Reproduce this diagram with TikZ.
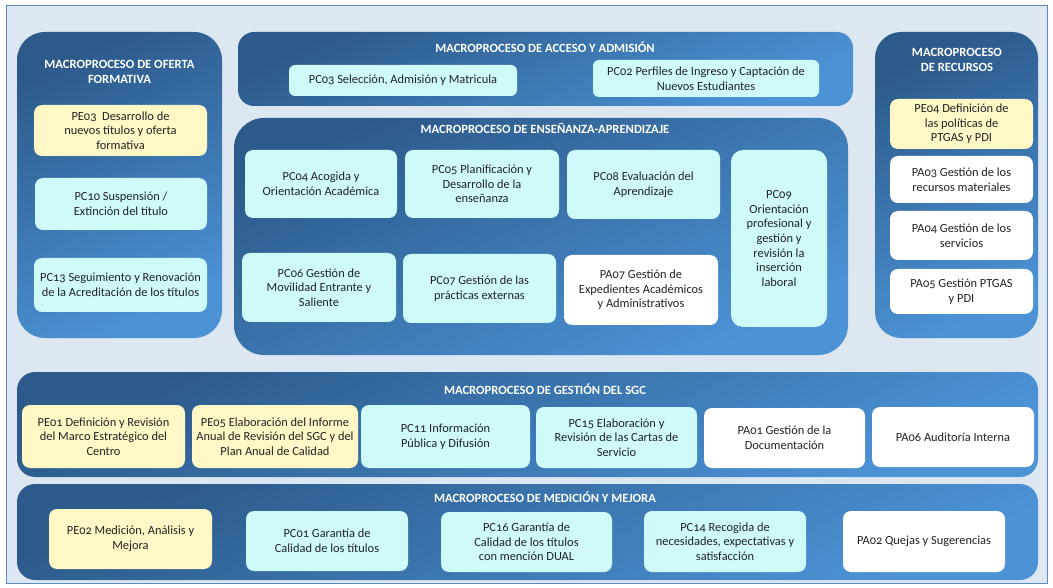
\documentclass[tikz,border=0pt]{standalone}
\usepackage{fontspec}
\setmainfont{Carlito}[Numbers=OldStyle]
\definecolor{bgc}{HTML}{DDE7F2}
\definecolor{framec}{HTML}{5B8BC2}
\definecolor{pdark}{HTML}{2C5A8A}
\definecolor{plight}{HTML}{4C93D6}
\definecolor{cyanb}{HTML}{CFFAFA}
\definecolor{yellb}{HTML}{FFF7C6}
\definecolor{txt}{HTML}{222222}
\tikzset{
  panel/.style={draw=none, rounded corners=#1, top color=pdark, bottom color=plight, shading angle=25, inner sep=0pt},
  ptitle/.style={text=white, font=\fontsize{12.6}{15}\selectfont\bfseries, align=center, inner sep=0pt},
  box/.style={rounded corners=8pt, draw=none, align=center, inner sep=1pt, text=txt, font=\fontsize{12.4}{14.6}\selectfont},
  pcbox/.style={box, fill=cyanb},
  pebox/.style={box, fill=yellb},
  pabox/.style={box, fill=white},
}
\begin{document}
\begin{tikzpicture}[x=1pt,y=-1pt]
\useasboundingbox (0,0) rectangle (1053,588);
\fill[white] (0,0) rectangle (1053,588);
\node[draw=framec, fill=bgc, line width=0.8pt, minimum width=1041pt, minimum height=578pt, inner sep=0pt] (frame) at (526.5,294) {};

% Oferta formativa
\node[panel=28pt, minimum width=205pt, minimum height=306pt] (pof) at (119.5,185) {};
\node[ptitle] (tof) at (119.5,71.5) {MACROPROCESO DE OFERTA\\FORMATIVA};
\node[pebox, minimum width=173pt, minimum height=51pt] (pe03) at (120.5,130.5) {PE03\ \ Desarrollo de\\nuevos títulos y oferta\\formativa};
\node[pcbox, minimum width=172pt, minimum height=52pt] (pc10) at (121,204) {PC10 Suspensión /\\Extinción del título};
\node[pcbox, minimum width=173pt, minimum height=54pt] (pc13) at (120.5,285) {PC13 Seguimiento y Renovación\\de la Acreditación de los títulos};

% Acceso y admision
\node[panel=16pt, minimum width=615pt, minimum height=74pt] (pac) at (545.5,69) {};
\node[ptitle] (tac) at (545,47) {MACROPROCESO DE ACCESO Y ADMISIÓN};
\node[pcbox, rounded corners=6pt, minimum width=228pt, minimum height=31pt] (pc03) at (403,80.5) {PC03 Selección, Admisión y Matricula};
\node[pcbox, rounded corners=6pt, minimum width=226pt, minimum height=37pt] (pc02) at (706,78.5) {PC02 Perfiles de Ingreso y Captación de\\Nuevos Estudiantes};

% Ensenanza-aprendizaje
\node[panel=30pt, minimum width=614pt, minimum height=237pt] (pen) at (541,236.5) {};
\node[ptitle] (ten) at (545,128) {MACROPROCESO DE ENSEÑANZA-APRENDIZAJE};
\node[pcbox, minimum width=152pt, minimum height=68pt] (pc04) at (321,184) {PC04 Acogida y\\Orientación Académica};
\node[pcbox, minimum width=154pt, minimum height=68pt] (pc05) at (482,184) {PC05 Planificación y\\Desarrollo de la\\enseñanza};
\node[pcbox, minimum width=153pt, minimum height=69pt] (pc08) at (643.5,184.5) {PC08 Evaluación del\\Aprendizaje};
\node[pcbox, rounded corners=12pt, minimum width=96pt, minimum height=177pt] (pc09) at (779,238.5) {PC09\\Orientación\\profesional y\\gestión y\\revisión la\\inserción\\laboral};
\node[pcbox, minimum width=154pt, minimum height=69pt] (pc06) at (319,287.5) {PC06 Gestión de\\Movilidad Entrante y\\Saliente};
\node[pcbox, minimum width=153pt, minimum height=69pt] (pc07) at (479.5,288.5) {PC07 Gestión de las\\prácticas externas};
\node[pabox, minimum width=154pt, minimum height=70pt] (pa07) at (641,290) {PA07 Gestión de\\Expedientes Académicos\\y Administrativos};

% Recursos
\node[panel=26pt, minimum width=163pt, minimum height=306pt] (pre) at (956.5,185) {};
\node[ptitle] (tre) at (957,60) {MACROPROCESO\\DE RECURSOS};
\node[pebox, minimum width=143pt, minimum height=50pt] (pe04) at (961.5,124) {PE04 Definición de\\las políticas de\\PTGAS y PDI};
\node[pabox, minimum width=143pt, minimum height=47pt] (pa03) at (961.5,179.5) {PA03 Gestión de los\\recursos materiales};
\node[pabox, minimum width=143pt, minimum height=49pt] (pa04) at (961.5,235.5) {PA04 Gestión de los\\servicios};
\node[pabox, minimum width=143pt, minimum height=45pt] (pa05) at (961.5,291.5) {PA05 Gestión PTGAS\\y PDI};

% Gestion del SGC
\node[panel=18pt, minimum width=1021pt, minimum height=105pt] (psg) at (527.5,424.5) {};
\node[ptitle] (tsg) at (545,389) {MACROPROCESO DE GESTIÓN DEL SGC};
\node[pebox, minimum width=163pt, minimum height=63pt] (pe01) at (103.5,436.5) {PE01 Definición y Revisión\\del Marco Estratégico del\\Centro};
\node[pebox, minimum width=166pt, minimum height=63pt] (pe05) at (275,436.5) {PE05 Elaboración del Informe\\Anual de Revisión del SGC y del\\Plan Anual de Calidad};
\node[pcbox, minimum width=169pt, minimum height=63pt] (pc11) at (445.5,436.5) {PC11 Información\\Pública y Difusión};
\node[pcbox, minimum width=161pt, minimum height=61pt] (pc15) at (616.5,437.5) {PC15 Elaboración y\\Revisión de las Cartas de\\Servicio};
\node[pabox, minimum width=161pt, minimum height=60pt] (pa01) at (784.5,438) {PA01 Gestión de la\\Documentación};
\node[pabox, minimum width=162pt, minimum height=60pt] (pa06) at (953,437) {PA06 Auditoría Interna};

% Medicion y mejora
\node[panel=18pt, minimum width=1021pt, minimum height=96pt] (pme) at (527.5,532) {};
\node[ptitle] (tme) at (545,497) {MACROPROCESO DE MEDICIÓN Y MEJORA};
\node[pebox, minimum width=163pt, minimum height=60pt] (pe02) at (130.5,539) {PE02 Medición, Análisis y\\Mejora};
\node[pcbox, minimum width=162pt, minimum height=60pt] (pc01) at (327,541) {PC01 Garantía de\\Calidad de los títulos};
\node[pcbox, minimum width=171pt, minimum height=60pt] (pc16) at (526.5,542) {PC16 Garantía de\\Calidad de los títulos\\con mención DUAL};
\node[pcbox, minimum width=162pt, minimum height=61pt] (pc14) at (725,541.5) {PC14 Recogida de\\necesidades, expectativas y\\satisfacción};
\node[pabox, minimum width=162pt, minimum height=61pt] (pa02) at (924,541.5) {PA02 Quejas y Sugerencias};
\end{tikzpicture}
\end{document}
